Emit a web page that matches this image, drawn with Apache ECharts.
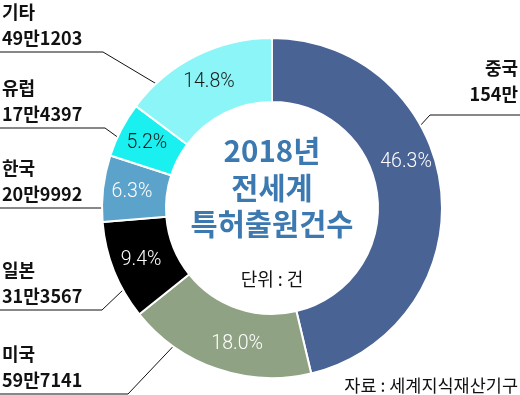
<!DOCTYPE html>
<html><head><meta charset="utf-8">
<script src="https://cdn.jsdelivr.net/npm/echarts@6/dist/echarts.min.js"></script>
<style>html,body{margin:0;padding:0;background:#fff}#c{width:520px;height:395px}</style>
</head><body><div id="c"></div>
<script>
const categories = ['중국', '미국', '일본', '한국', '유럽', '기타'];
const values = [1540000, 597141, 313567, 209992, 174397, 491203];
const valueLabels = ['154만', '59만7141', '31만3567', '20만9992', '17만4397', '49만1203'];
const titleLines = ['2018년', '전세계', '특허출원건수'];
const unitText = '단위 : 건';
const sourceText = '자료 : 세계지식재산기구';

const colors = ['#4a6395', '#8fa384', '#000000', '#5ca3cc', '#1af0f0', '#8bf5f7'];
const pctColors = ['#fff', '#fff', '#fff', '#fff', '#1a1a1a', '#1a1a1a'];
const total = values.reduce((a, b) => a + b, 0);
const KR = '"Noto Sans CJK KR", "Noto Sans", sans-serif';

const data = categories.map((c, i) => ({ name: c, value: values[i] }));

// per-slice tweaks of label placement (layout, not data)
const pctShift = { 0: [-6, -30], 1: [11, 3] };
const outer = {
  0: { x: 518, y: 107, align: 'right', pts: [[407, 140], [430, 115], [520, 115]] },
  1: { x: 2, y: 393, align: 'left', pts: [[183, 336], [128, 394], [0, 394]] },
  2: { x: 2, y: 309, align: 'left', pts: [[123, 290], [102, 310], [0, 310]] },
  3: { x: 2, y: 207, align: 'left', pts: [[113, 208], [60, 208], [0, 208]] },
  4: { x: 2, y: 127, align: 'left', pts: [[123, 141], [105, 128], [0, 128]] },
  5: { x: 2, y: 51, align: 'left', pts: [[165, 89], [103, 52], [0, 52]] }
};

const chart = echarts.init(document.getElementById('c'), null, { renderer: 'canvas' });
chart.setOption({
  animation: false,
  backgroundColor: '#fff',
  color: colors,
  series: [
    {
      type: 'pie',
      center: [272, 208],
      radius: [106, 170],
      startAngle: 90,
      clockwise: true,
      silent: true,
      itemStyle: { borderColor: '#fff', borderWidth: 2 },
      label: {
        show: true,
        position: 'inside',
        fontFamily: 'Roboto, "Noto Sans", sans-serif',
        fontWeight: 300,
        fontSize: 19.5,
        formatter: p => (p.value / total * 100).toFixed(1) + '%'
      },
      labelLine: { show: false },
      labelLayout: p => {
        const s = pctShift[p.dataIndex];
        return s ? { dx: s[0], dy: s[1] } : {};
      },
      data: data.map((d, i) => Object.assign({}, d, { label: { color: pctColors[i] } }))
    },
    {
      type: 'pie',
      center: [272, 208],
      radius: [106, 170],
      startAngle: 90,
      clockwise: true,
      silent: true,
      itemStyle: { color: 'rgba(0,0,0,0)', borderWidth: 0 },
      label: {
        show: true,
        position: 'outside',
        overflow: 'none',
        width: 200,
        formatter: p => '{n|' + p.name + '}\n{v|' + valueLabels[p.dataIndex] + '}',
        rich: {
          n: { fontFamily: KR, fontSize: 18, fontWeight: 600, color: '#111', lineHeight: 26 },
          v: { fontFamily: KR, fontSize: 18, fontWeight: 600, color: '#111', lineHeight: 26 }
        }
      },
      labelLine: { show: true, lineStyle: { color: '#111', width: 1 } },
      labelLayout: p => {
        const o = outer[p.dataIndex];
        return { x: o.x, y: o.y, width: 200, align: o.align, verticalAlign: 'bottom', labelLinePoints: o.pts };
      },
      data: data
    }
  ],
  graphic: [
    ...titleLines.map((t, i) => ({
      type: 'text', x: 272, y: 151 + i * 36.5, silent: true,
      style: { text: t, font: '700 29.5px ' + KR, fill: '#3b79b0', textAlign: 'center', textVerticalAlign: 'middle', align: 'center', verticalAlign: 'middle' }
    })),
    {
      type: 'text', x: 272, y: 279, silent: true,
      style: { text: unitText, font: '400 18px ' + KR, fill: '#111', textAlign: 'center', textVerticalAlign: 'middle', align: 'center', verticalAlign: 'middle' }
    },
    {
      type: 'text', x: 518, y: 385, silent: true,
      style: { text: sourceText, font: '400 17.5px ' + KR, fill: '#111', textAlign: 'right', textVerticalAlign: 'middle', align: 'right', verticalAlign: 'middle' }
    }
  ]
});
</script></body></html>
